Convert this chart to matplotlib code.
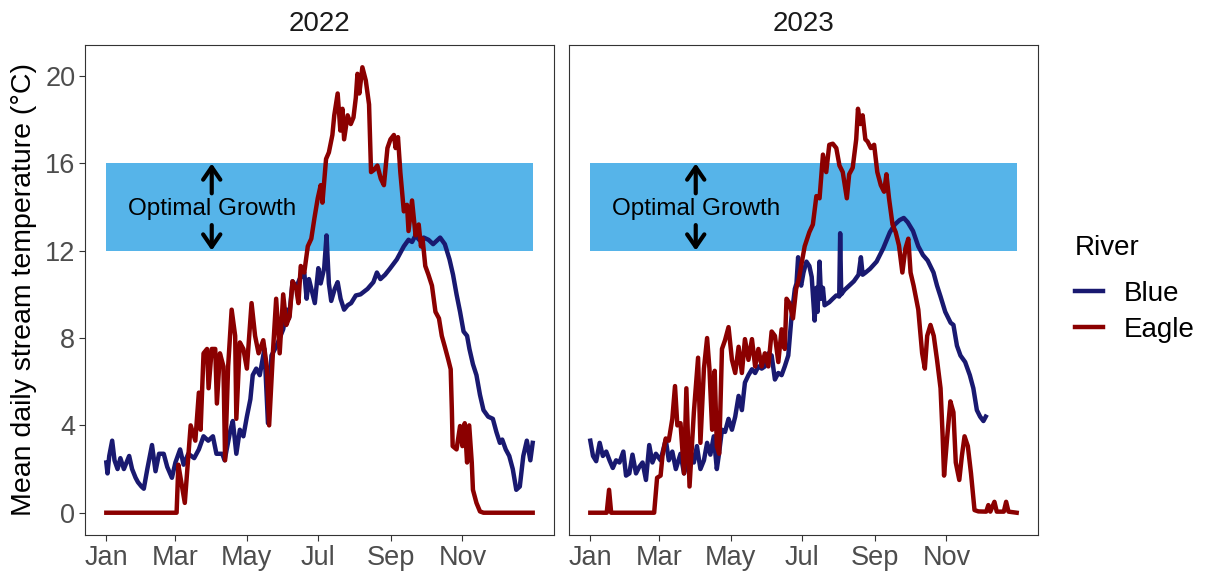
import matplotlib
matplotlib.use("Agg")
import matplotlib.pyplot as plt
from matplotlib.lines import Line2D

plt.rcParams['font.family'] = ['Liberation Sans', 'DejaVu Sans']

# ---------------- data (day of year, mean daily temperature °C) ----------------
years = ["2022", "2023"]

blue_2022_day = [0, 1, 2.5, 5, 7, 9.6, 12, 15, 19.5, 22, 25, 27, 30, 32, 35, 39, 42, 45, 49, 52,
                 56, 59, 63, 66, 70, 75, 79, 83, 87, 91, 94, 99, 101, 106, 108, 111, 114, 117, 120, 123,
                 125, 128, 131, 135, 138, 141, 145, 151, 154, 156, 159, 162, 165, 169, 171, 173, 178, 181, 183, 186,
                 188, 190, 192, 195, 197.5, 200, 203, 206, 209, 213, 217, 223, 228, 231, 234, 238, 242, 248, 254, 258,
                 261, 264, 267, 271, 275, 279, 285, 289, 293, 296, 299, 302, 305, 308, 310, 313, 316, 319, 322, 326,
                 330, 333, 336, 338, 341, 344, 347, 350, 353, 356, 359, 362, 364]
blue_2022_val = [2.3, 1.8, 2.6, 3.3, 2.4, 2.0, 2.5, 2.0, 2.6, 2.0, 1.6, 1.4, 1.2, 1.1, 2.0, 3.1, 1.9, 2.7, 2.7, 2.1,
                 1.6, 2.3, 2.9, 2.2, 2.7, 2.5, 2.9, 3.5, 3.3, 3.5, 2.7, 2.7, 2.4, 3.8, 4.2, 2.7, 3.8, 3.5, 4.4, 5.2,
                 6.3, 6.6, 6.3, 7.5, 4.1, 7.2, 7.6, 8.4, 9.3, 8.9, 10.6, 10.3, 10.7, 11.0, 9.8, 10.7, 9.6, 11.2, 10.5, 11.2,
                 12.7, 10.5, 9.7, 10.25, 10.56, 9.8, 9.3, 9.5, 9.6, 9.95, 10.0, 10.25, 10.56, 11.0, 10.7, 10.9, 11.17, 11.6, 12.2, 12.5,
                 12.4, 12.7, 12.5, 12.6, 12.5, 12.3, 12.6, 12.3, 11.6, 10.9, 10.0, 9.2, 8.3, 8.1, 7.5, 6.8, 6.3, 5.4, 4.7, 4.4,
                 4.3, 3.7, 3.2, 3.35, 2.9, 2.6, 2.0, 1.05, 1.2, 2.6, 3.3, 2.4, 3.2]

eagle_2022_day = [0, 60, 61.5, 64, 67, 72, 76, 79, 80.5, 83, 86, 87.3, 90, 93, 94.4, 97, 100, 101.4, 104, 107,
                  110, 111, 114, 117, 120, 124, 127, 130, 134, 137, 139, 142.4, 145, 148, 151, 153.7, 156.5, 159, 162, 164,
                  166, 169, 172, 175, 177.7, 180.5, 183, 184.5, 187.6, 190, 193, 194.6, 197.5, 199.8, 201.6, 203, 206, 208.7, 211, 213,
                  214.4, 216, 218.6, 221.5, 224.3, 226, 228.5, 231.4, 234.3, 237, 240, 242.6, 245.5, 247, 249, 251, 254, 256.7, 258, 261,
                  264, 266.7, 268.6, 270, 272.3, 275, 278, 281, 284, 286.4, 289, 292, 294, 295, 295.7, 299, 302, 304, 306, 308,
                  309.8, 312, 313, 316, 319, 322, 364]
eagle_2022_val = [0, 0, 2.2, 1.4, 0.45, 4.0, 3.3, 5.5, 3.8, 7.3, 7.5, 5.7, 7.5, 7.5, 5.0, 7.3, 6.7, 2.4, 6.7, 9.3,
                  8.1, 4.3, 7.8, 7.5, 6.6, 9.6, 8.1, 7.3, 7.9, 6.7, 4.0, 7.5, 9.8, 7.3, 10.0, 8.6, 9.0, 10.6, 10.3, 9.6,
                  11.3, 11.0, 12.2, 12.55, 13.5, 14.4, 15.0, 14.2, 16.2, 16.5, 17.3, 18.2, 19.2, 17.5, 18.5, 17.1, 18.2, 17.8, 18.1, 19.0,
                  20.1, 19.2, 20.4, 19.8, 18.7, 15.6, 15.7, 15.9, 15.3, 15.0, 16.7, 17.1, 17.3, 16.7, 17.2, 15.6, 13.8, 14.1, 12.9, 14.3,
                  12.7, 13.2, 12.2, 12.55, 11.3, 10.9, 10.4, 9.2, 8.9, 8.1, 7.6, 7.0, 6.57, 4.7, 3.05, 2.9, 3.97, 3.05, 4.1, 2.3,
                  4.0, 2.3, 1.05, 0.45, 0.06, 0, 0]

blue_2023_day = [0, 2.3, 5, 8, 10.7, 13.6, 16.4, 19.2, 22, 24.9, 28.2, 30.5, 33.3, 36, 39, 41.8, 44.6, 47.5, 50.3, 53,
                 56, 60, 64.4, 67, 70, 73, 77, 80, 82.8, 85.6, 88.4, 91, 94, 97, 99.7, 102.5, 105.4, 108, 109.6, 112.4,
                 115, 118, 120.9, 123.7, 126.6, 129.4, 132, 135, 138, 140.7, 143.5, 146.3, 149, 152, 154.8, 157.6, 160.5, 163.3, 166, 169,
                 171.8, 174.6, 176, 177.4, 179, 180, 182, 184.5, 187, 189, 191.5, 193, 194, 195.7, 197, 198.6, 200, 204, 207, 210,
                 212.5, 213.3, 214.2, 217, 221, 225, 229, 231, 232.5, 235, 238.8, 244.4, 250, 255.8, 260, 264, 267.6, 271, 275.5, 280,
                 284, 288, 293, 296, 299, 303, 307.6, 310, 313, 316, 320, 324, 327, 330, 332.8, 335.6, 337.6]
blue_2023_val = [3.3, 2.6, 2.36, 3.2, 2.6, 2.8, 2.4, 2.05, 2.4, 2.3, 2.8, 1.7, 1.8, 2.66, 1.8, 2.1, 2.3, 1.5, 3.1, 2.3,
                 2.7, 2.4, 3.35, 2.4, 2.8, 2.0, 2.7, 1.8, 2.3, 2.8, 2.3, 3.05, 2.0, 2.4, 3.2, 2.66, 3.5, 2.0, 2.6, 3.8,
                 3.7, 4.3, 3.8, 4.4, 5.35, 4.7, 5.96, 6.3, 6.57, 6.4, 6.7, 6.6, 6.7, 7.3, 7.2, 6.1, 6.4, 6.3, 6.7, 7.2,
                 9.0, 10.25, 10.5, 11.7, 10.6, 10.4, 11.0, 11.5, 11.3, 10.8, 8.8, 10.3, 9.2, 11.5, 9.8, 10.3, 9.5, 9.64, 9.8, 9.95,
                 9.9, 12.8, 10.0, 10.2, 10.4, 10.6, 10.9, 11.7, 10.9, 11.0, 11.17, 11.5, 12.1, 12.85, 13.2, 13.4, 13.5, 13.3, 12.9, 12.2,
                 11.8, 11.55, 11.0, 10.4, 9.9, 9.2, 8.7, 8.6, 7.65, 7.2, 6.9, 6.3, 5.7, 4.7, 4.4, 4.2, 4.4]

eagle_2023_day = [0, 14, 16, 17.8, 54.5, 57, 60, 61.6, 64.4, 67, 70, 72.3, 74.3, 77, 80, 82, 84.7, 88.4, 92, 94,
                  97, 99.7, 101.7, 104, 106.2, 108, 110, 112.4, 115, 118, 120.9, 123.7, 126.6, 129.4, 132, 135, 138, 140.7, 143.5, 146.3,
                  149, 152, 154.8, 157.6, 160.5, 163.3, 166, 167.5, 170, 173, 175.7, 178, 180, 183, 187, 190, 193, 195.7, 198.6, 201.4,
                  204, 207, 210, 212.7, 215.5, 219, 221, 224, 227, 228.5, 230.5, 232.5, 234.8, 236.7, 239.5, 242.3, 245, 248, 250.8, 252.8,
                  255, 258, 260.7, 263.5, 266.4, 269, 271.5, 273.4, 276, 280, 283.3, 285.6, 287.6, 290.4, 293.2, 296, 299, 300.8, 302, 304.5,
                  307.4, 310, 312, 315, 317.2, 319.5, 322.3, 325, 328, 331.3, 338, 339.8, 341.5, 345, 347, 353, 355, 357, 364]
eagle_2023_val = [0, 0, 1.05, 0, 0, 1.6, 1.7, 2.6, 3.4, 3.3, 4.3, 5.8, 4.0, 4.1, 1.8, 5.7, 1.2, 4.6, 7.1, 3.2,
                  6.6, 8.0, 6.6, 3.8, 6.5, 3.05, 2.7, 7.5, 7.9, 8.5, 7.0, 6.4, 7.6, 6.4, 7.95, 7.0, 7.95, 6.7, 7.5, 6.7,
                  7.3, 6.7, 8.3, 8.1, 6.9, 8.4, 7.5, 9.8, 9.6, 8.9, 10.25, 10.7, 11.3, 12.2, 12.85, 13.2, 14.5, 14.4, 16.4, 15.6,
                  16.85, 16.9, 16.7, 15.9, 15.6, 14.4, 15.5, 15.8, 17.1, 18.5, 17.8, 18.2, 17.1, 17.0, 16.7, 16.85, 15.6, 15.0, 14.7, 15.5,
                  14.4, 13.2, 12.85, 12.24, 11.0, 12.1, 12.55, 11.0, 10.4, 9.3, 7.3, 6.6, 8.1, 8.6, 8.1, 7.0, 5.7, 3.5, 1.7, 3.35,
                  5.1, 4.6, 2.3, 1.5, 2.6, 3.5, 3.05, 1.8, 0.12, 0.06, 0.05, 0.35, 0.05, 0.5, 0.05, 0.05, 0.5, 0.05, 0]

series = {
    "2022": {"Blue": (blue_2022_day, blue_2022_val), "Eagle": (eagle_2022_day, eagle_2022_val)},
    "2023": {"Blue": (blue_2023_day, blue_2023_val), "Eagle": (eagle_2023_day, eagle_2023_val)},
}

rivers = ["Blue", "Eagle"]
river_colors = {"Blue": "#191970", "Eagle": "#8B0000"}

# optimal growth band
band_low, band_high = 12, 16
band_start, band_end = 0, 364
band_label = "Optimal Growth"
label_day = 90

month_ticks = [0, 59, 120, 181, 243, 304]
month_labels = ["Jan", "Mar", "May", "Jul", "Sep", "Nov"]
y_ticks = [0, 4, 8, 12, 16, 20]

# ---------------- figure ----------------
W, H = 1211, 578
fig = plt.figure(figsize=(W / 100, H / 100), dpi=100)

panels = [(85, 45, 554, 535), (569, 45, 1038, 535)]
arrow_style = "->,head_length=0.9,head_width=0.62"
axes = []
for i, (yr, (x0, y0, x1, y1)) in enumerate(zip(years, panels)):
    ax = fig.add_axes([x0 / W, 1 - y1 / H, (x1 - x0) / W, (y1 - y0) / H])
    axes.append(ax)
    ax.fill_between([band_start, band_end], band_low, band_high, color="#56B4E9", lw=0, zorder=1)
    mid = (band_low + band_high) / 2
    ax.text(label_day, mid - 0.1, band_label, ha="center", va="center", fontsize=17.5, color="black", zorder=3)
    ax.annotate("", xy=(label_day, band_high + 0.12), xytext=(label_day, mid + 0.5),
                arrowprops=dict(arrowstyle=arrow_style, lw=3.0, color="black"), zorder=3)
    ax.annotate("", xy=(label_day, band_low - 0.12), xytext=(label_day, mid - 0.7),
                arrowprops=dict(arrowstyle=arrow_style, lw=3.0, color="black"), zorder=3)
    for r in rivers:
        d, v = series[yr][r]
        ax.plot(d, v, color=river_colors[r], lw=3.2, solid_joinstyle="round", zorder=4)
    ax.set_xlim(-18.2, 382.2)
    ax.set_ylim(-1.02, 21.42)
    ax.set_xticks(month_ticks)
    ax.set_xticklabels(month_labels)
    ax.set_yticks(y_ticks)
    for s in ax.spines.values():
        s.set_color("#333333")
        s.set_linewidth(0.8)
    ax.tick_params(axis="both", colors="#333333", length=4, width=0.8, labelsize=19.5,
                   labelcolor="#4D4D4D", pad=3)
    if i == 1:
        ax.tick_params(axis="y", left=False, labelleft=False)
    ax.set_title(yr, fontsize=20, color="#1A1A1A", pad=10)

axes[0].set_ylabel("Mean daily stream temperature (°C)", fontsize=20.5, color="black", labelpad=6)

handles = [Line2D([0], [0], color=river_colors[r], lw=3.2) for r in rivers]
leg = fig.legend(handles, rivers, title="River", loc="upper left", bbox_to_anchor=(1050 / W, 1 - 210 / H),
                 frameon=False, fontsize=20, title_fontsize=20, handlelength=1.0, handletextpad=0.75,
                 labelspacing=0.34)
leg._legend_box.align = "left"
leg._legend_box.sep = 14.5

fig.savefig("out.png", dpi=100)
